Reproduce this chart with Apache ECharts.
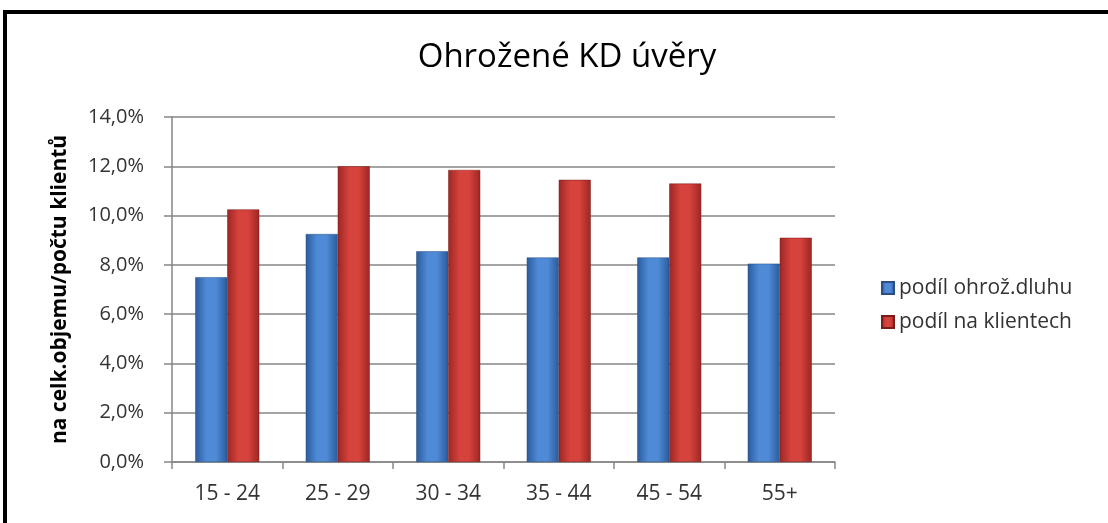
<!DOCTYPE html>
<html>
<head>
<meta charset="UTF-8">
<title>Ohrožené KD úvěry</title>
<script src="https://cdn.jsdelivr.net/npm/echarts@6/dist/echarts.min.js"></script>
<style>
  html, body { margin: 0; padding: 0; background: #fff; }
  #frame { position: absolute; left: 3px; top: 10px; width: 1200px; height: 600px;
           border-left: 4px solid #000; border-top: 4px solid #000; }
  #main { position: absolute; left: 0; top: 0; width: 1108px; height: 523px; }
</style>
</head>
<body>
<div id="frame"></div>
<div id="main"></div>
<script type="text/javascript">
// data
var kategorie = ['15 - 24', '25 - 29', '30 - 34', '35 - 44', '45 - 54', '55+'];
var podilDluhu = [7.5, 9.25, 8.55, 8.3, 8.3, 8.05];
var podilKlienti = [10.25, 12.0, 11.85, 11.45, 11.3, 9.1];
var nazvySerii = ['podíl ohrož.dluhu', 'podíl na klientech'];

var font = '"Open Sans", "Noto Sans", sans-serif';

function bevel(dark, light) {
    return new echarts.graphic.LinearGradient(0, 0, 1, 0, [
        { offset: 0, color: dark },
        { offset: 0.35, color: light },
        { offset: 0.65, color: light },
        { offset: 1, color: dark }
    ]);
}

var myChart = echarts.init(document.getElementById('main'));
var option = {
    animation: false,
    title: {
        text: 'Ohrožené KD úvěry',
        left: 562,
        textAlign: 'center',
        top: 36,
        textStyle: { fontFamily: font, fontSize: 33, fontWeight: 'normal', color: '#000' }
    },
    legend: {
        orient: 'vertical',
        left: 876,
        top: 270,
        itemWidth: 12,
        itemHeight: 12,
        itemGap: 8,
        icon: 'rect',
        textStyle: { fontFamily: font, fontSize: 21, color: '#333', padding: [0, 0, 0, 0], lineHeight: 26 },
        data: nazvySerii
    },
    grid: { left: 172, right: 273, top: 117, bottom: 61 },
    xAxis: {
        type: 'category',
        data: kategorie,
        axisLine: { lineStyle: { color: '#868686', width: 1.5 } },
        axisTick: { show: true, length: 7, lineStyle: { color: '#868686', width: 1.5 } },
        axisLabel: { fontFamily: font, fontSize: 21, color: '#333', margin: 22 }
    },
    yAxis: {
        type: 'value',
        min: 0,
        max: 14,
        interval: 2,
        name: 'na celk.objemu/počtu klientů',
        nameLocation: 'middle',
        nameGap: 101,
        nameTextStyle: { fontFamily: font, fontSize: 21, fontWeight: 'bold', color: '#000' },
        axisLine: { show: true, lineStyle: { color: '#868686', width: 1.5 } },
        axisTick: { show: true, length: 8, lineStyle: { color: '#868686', width: 1.5 } },
        splitLine: { lineStyle: { color: '#868686', width: 1.5 } },
        axisLabel: {
            fontFamily: font, fontSize: 20, color: '#333', margin: 28,
            formatter: function (v) { return v.toFixed(1).replace('.', ',') + '%'; }
        }
    },
    series: [
        {
            name: nazvySerii[0],
            type: 'bar',
            data: podilDluhu,
            barWidth: 32,
            barGap: '0%',
            itemStyle: { color: bevel('#2a5b9c', '#4f8ad6'), borderColor: '#2a4f80', borderWidth: 0.5 }
        },
        {
            name: nazvySerii[1],
            type: 'bar',
            data: podilKlienti,
            barWidth: 32,
            barGap: '0%',
            itemStyle: { color: bevel('#9c2724', '#d6423c'), borderColor: '#7a1d1a', borderWidth: 0.5 }
        }
    ]
};
myChart.setOption(option);
</script>
</body>
</html>
